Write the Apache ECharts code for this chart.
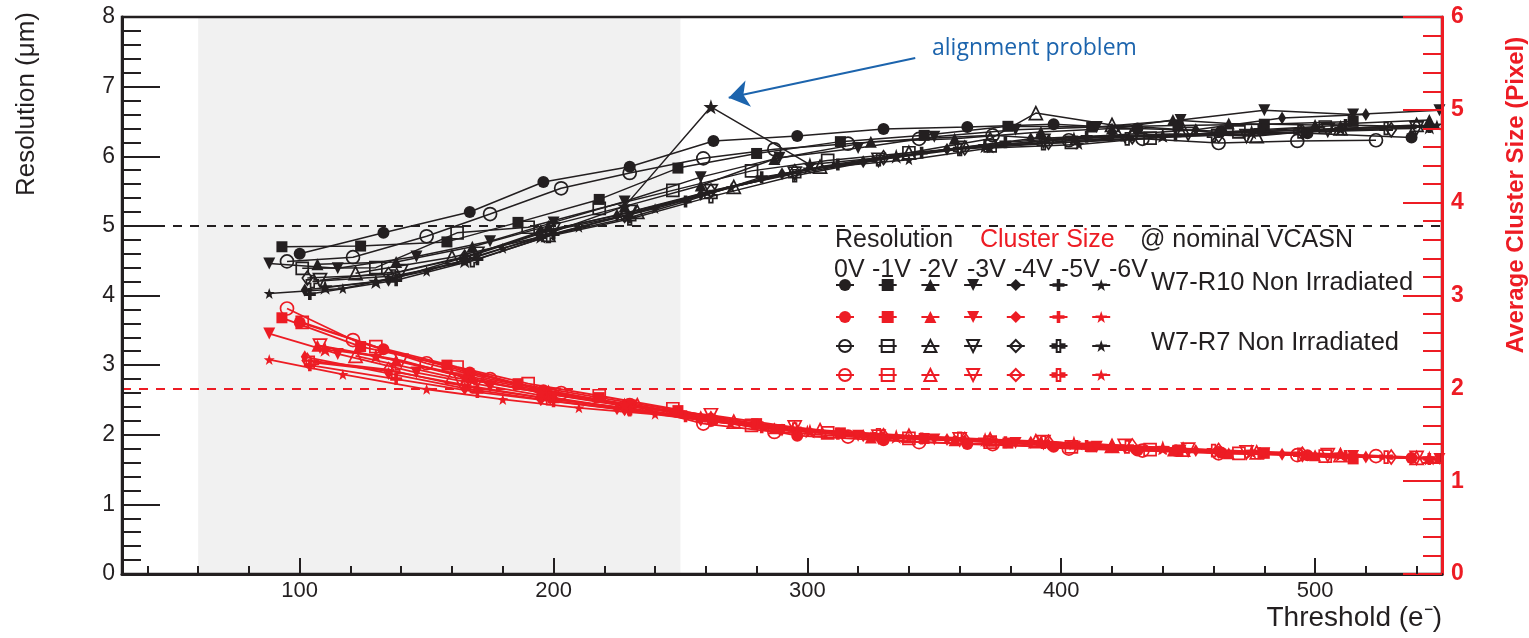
<!DOCTYPE html>
<html><head><meta charset="utf-8">
<script src="https://cdn.jsdelivr.net/npm/echarts@6/dist/echarts.min.js"></script>
<style>html,body{margin:0;padding:0;background:#fff;}#c{width:1529px;height:638px;}</style>
</head><body><div id="c"></div>
<script>
// ---------- tick labels / axis ----------
const xMajorTicks = [100, 200, 300, 400, 500];
const xMinorTicks = [40, 60, 80, 120, 140, 160, 180, 220, 240, 260, 280, 320, 340, 360, 380, 420, 440, 460, 480, 520, 540];
const voltLabels = ['0V', '-1V', '-2V', '-3V', '-4V', '-5V', '-6V'];

// ---------- thresholds (e-) ----------
const thrR10_0V = [100,133,167,196,230,263,296,330,363,397,430,463,497,538];
const thrR10_1V = [93,124,158,186,218,249,280,313,346,379,412,446,480,515];
const thrR10_2V = [107,138,168,198,228,258,287,325,358,392,420,444,466,500,545];
const thrR10_3V = [88,115,146,175,200,228,258,289,320,350,382,414,447,480,515,549];
const thrR10_4V = [102,135,165,195,225,258,290,322,355,388,420,453,487,520];
const thrR10_5V = [104,138,170,200,230,252,282,312,345,378,410,445,478,512,545];
const thrR10_6V = [88,117,150,180,210,240,270,300,340,372,407,440,475,510,548];
const thrR7_0V = [95,121,150,175,203,230,259,287,316,344,373,403,432,462,493,524];
const thrR7_1V = [101,130,162,190,218,247,278,308,340,372,404,435,470,504];
const thrR7_2V = [122,160,198,233,271,305,340,372,390,420,448,477,510,540];
const thrR7_3V = [108,140,170,200,230,262,295,328,360,393,425,450,473,505,540];
const thrR7_4V = [103,135,165,195,228,262,295,330,362,395,428,462,495,530];
const thrR7_5V = [105,137,168,198,230,262,295,328,360,393,426,460,494,528];
const thrR7_6V = [110,130,165,195,228,262,301,335,370,405,440,475,510,545];

// ---------- resolution (um) ----------
const resR10_0V = [4.60,4.90,5.20,5.63,5.85,6.22,6.29,6.39,6.42,6.46,6.40,6.36,6.33,6.27];
const resR10_1V = [4.70,4.71,4.77,5.05,5.38,5.83,6.04,6.21,6.30,6.43,6.42,6.44,6.46,6.50];
const resR10_2V = [4.45,4.48,4.70,5.00,5.28,5.58,5.96,6.21,6.25,6.35,6.40,6.52,6.47,6.45,6.52];
const resR10_3V = [4.46,4.39,4.56,4.78,5.05,5.35,5.70,5.98,6.12,6.28,6.38,6.42,6.52,6.66,6.60,6.66];
const resR10_4V = [4.08,4.22,4.55,4.92,5.15,5.45,5.75,5.92,6.10,6.25,6.30,6.38,6.55,6.60];
const resR10_5V = [4.02,4.22,4.52,4.88,5.12,5.35,5.70,5.88,6.05,6.20,6.28,6.30,6.38,6.45,6.42];
const resR10_6V = [4.03,4.10,4.35,4.68,4.98,5.25,5.55,5.82,5.95,6.12,6.17,6.28,6.35,6.40,6.45];
const resR7_0V = [4.49,4.55,4.85,5.17,5.54,5.76,5.97,6.10,6.18,6.25,6.30,6.23,6.25,6.19,6.22,6.23];
const resR7_1V = [4.39,4.40,4.90,4.98,5.25,5.51,5.79,5.94,6.05,6.15,6.20,6.26,6.35,6.42];
const resR7_2V = [4.32,4.55,4.87,5.20,5.56,5.85,6.05,6.25,6.62,6.45,6.38,6.29,6.40,6.45];
const resR7_3V = [4.22,4.35,4.60,4.95,5.20,5.50,5.75,5.95,6.12,6.22,6.30,6.32,6.29,6.38,6.40];
const resR7_4V = [4.25,4.30,4.55,4.90,5.15,5.50,5.78,5.98,6.12,6.20,6.28,6.30,6.35,6.38];
const resR7_5V = [4.20,4.28,4.50,4.85,5.10,5.42,5.72,5.95,6.10,6.18,6.25,6.30,6.35,6.40];
const resR7_6V = [4.12,4.20,4.50,4.85,5.28,6.71,5.88,6.00,6.15,6.25,6.30,6.35,6.40,6.42];

// ---------- average cluster size (pixel) ----------
const csR10_0V = [2.71,2.42,2.17,1.98,1.82,1.66,1.49,1.44,1.40,1.37,1.33,1.31,1.28,1.25];
const csR10_1V = [2.76,2.45,2.25,2.05,1.90,1.76,1.62,1.52,1.46,1.41,1.37,1.33,1.30,1.24];
const csR10_2V = [2.46,2.30,2.12,1.96,1.83,1.70,1.57,1.47,1.44,1.43,1.37,1.33,1.30,1.28,1.25];
const csR10_3V = [2.59,2.37,2.17,2.02,1.90,1.78,1.66,1.55,1.49,1.45,1.41,1.37,1.33,1.30,1.27,1.24];
const csR10_4V = [2.34,2.16,2.00,1.88,1.78,1.66,1.55,1.49,1.45,1.42,1.37,1.33,1.29,1.26];
const csR10_5V = [2.25,2.10,1.96,1.86,1.76,1.70,1.58,1.51,1.46,1.42,1.38,1.33,1.30,1.27,1.24];
const csR10_6V = [2.31,2.15,1.99,1.88,1.79,1.72,1.62,1.55,1.47,1.43,1.39,1.34,1.31,1.28,1.24];
const csR7_0V = [2.86,2.52,2.27,2.10,1.95,1.82,1.62,1.53,1.48,1.42,1.40,1.35,1.33,1.30,1.28,1.27];
const csR7_1V = [2.71,2.45,2.23,2.05,1.92,1.78,1.60,1.52,1.46,1.42,1.37,1.34,1.30,1.27];
const csR7_2V = [2.35,2.12,1.95,1.82,1.64,1.55,1.49,1.45,1.43,1.38,1.34,1.31,1.28,1.25];
const csR7_3V = [2.46,2.30,2.08,1.93,1.80,1.71,1.58,1.48,1.45,1.42,1.38,1.34,1.31,1.28,1.25];
const csR7_4V = [2.30,2.20,2.02,1.90,1.79,1.67,1.56,1.49,1.45,1.42,1.38,1.33,1.29,1.26];
const csR7_5V = [2.28,2.18,2.02,1.89,1.78,1.66,1.56,1.50,1.46,1.42,1.37,1.33,1.29,1.26];
const csR7_6V = [2.42,2.35,2.12,1.95,1.82,1.68,1.54,1.48,1.45,1.41,1.36,1.32,1.29,1.25];

// ---------- styling ----------
const BLACK = '#231f20', RED = '#ed1c24', BLUE = '#1c64ad';
const FONT = '"Liberation Sans", Arial, Helvetica, sans-serif';
const P_TRIDOWN = 'path://M0,0L100,0L50,87Z';
const P_CROSS = 'path://M35,0H65V35H100V65H65V100H35V65H0V35H35Z';
const P_STAR = 'path://M50,0L61.8,33.8L97.6,34.5L69,56.2L79.4,90.5L50,70L20.6,90.5L31,56.2L2.4,34.5L38.2,33.8Z';
const symR10 = [['circle',12,false],['rect',11,false],['triangle',12,false],[P_TRIDOWN,12,false],['diamond',[8,13],false],[P_CROSS,12,false],[P_STAR,11,false]];
const symR7 = [['circle',13,true],['rect',12,true],['triangle',13,true],[P_TRIDOWN,13,true],['diamond',[10,14],true],[P_CROSS,12,true],[P_STAR,15,false]];

const thrR10 = [thrR10_0V,thrR10_1V,thrR10_2V,thrR10_3V,thrR10_4V,thrR10_5V,thrR10_6V];
const thrR7 = [thrR7_0V,thrR7_1V,thrR7_2V,thrR7_3V,thrR7_4V,thrR7_5V,thrR7_6V];
const resR10 = [resR10_0V,resR10_1V,resR10_2V,resR10_3V,resR10_4V,resR10_5V,resR10_6V];
const resR7 = [resR7_0V,resR7_1V,resR7_2V,resR7_3V,resR7_4V,resR7_5V,resR7_6V];
const csR10 = [csR10_0V,csR10_1V,csR10_2V,csR10_3V,csR10_4V,csR10_5V,csR10_6V];
const csR7 = [csR7_0V,csR7_1V,csR7_2V,csR7_3V,csR7_4V,csR7_5V,csR7_6V];

function mk(name, xs, ys, axis, sd, color) {
  const open = sd[2];
  return {
    name: name, type: 'line', xAxisIndex: 0, yAxisIndex: axis,
    data: xs.map((x, i) => [x, ys[i]]),
    symbol: sd[0], symbolSize: sd[1], showSymbol: true, silent: true, z: 3,
    lineStyle: { color: color, width: axis === 0 ? 1.5 : 1.8 },
    itemStyle: open ? { color: 'rgba(255,255,255,0)', borderColor: color, borderWidth: 1.7 }
                    : { color: color, borderWidth: 0 },
    emphasis: { disabled: true }
  };
}

const series = [];
const rows = [[], [], [], []];
for (let i = 0; i < 7; i++) {
  const n1 = 'Res R10 ' + voltLabels[i], n2 = 'CS R10 ' + voltLabels[i];
  const n3 = 'Res R7 ' + voltLabels[i], n4 = 'CS R7 ' + voltLabels[i];
  series.push(mk(n1, thrR10[i], resR10[i], 0, symR10[i], BLACK));
  series.push(mk(n2, thrR10[i], csR10[i], 1, symR10[i], RED));
  series.push(mk(n3, thrR7[i], resR7[i], 0, symR7[i], BLACK));
  series.push(mk(n4, thrR7[i], csR7[i], 1, symR7[i], RED));
  rows[0].push(n1); rows[1].push(n2); rows[2].push(n3); rows[3].push(n4);
}

// helper series: shaded band, dashed reference lines, annotation arrow
series.push({
  name: 'band', type: 'line', data: [], xAxisIndex: 0, yAxisIndex: 0, silent: true,
  markArea: { silent: true, itemStyle: { color: '#f1f1f1' }, data: [[{ xAxis: 60 }, { xAxis: 250 }]] },
  markLine: { silent: true, symbol: ['none', 'none'], label: { show: false },
    lineStyle: { color: BLACK, type: [9, 8], width: 2 }, data: [{ yAxis: 5 }] }
});
series.push({
  name: 'refCS', type: 'line', data: [], xAxisIndex: 0, yAxisIndex: 1, silent: true,
  markLine: { silent: true, symbol: ['none', 'none'], label: { show: false },
    lineStyle: { color: RED, type: [9, 8], width: 2 }, data: [{ yAxis: 2 }] }
});
series.push({
  name: 'arrow', type: 'line', data: [], xAxisIndex: 0, yAxisIndex: 0, silent: true, z: 6,
  markLine: { silent: true, symbol: ['none', 'arrow'], symbolSize: 20, label: { show: false },
    itemStyle: { color: BLUE },
    lineStyle: { color: BLUE, type: 'solid', width: 2 },
    data: [[{ coord: [342.5, 7.41] }, { coord: [269, 6.84] }]] }
});

const legends = rows.map((names, r) => ({
  data: names, orient: 'horizontal', left: 835, top: [285, 317, 346, 375][r] - 7.5,
  itemWidth: 18, itemHeight: 15, itemGap: 22.7, padding: 0, selectedMode: false,
  formatter: () => '', textStyle: { fontSize: 10 }
}));

const txt = (t, x, y, color, size) => ({
  type: 'text', x: x, y: y, silent: true,
  style: { text: t, fill: color, font: size + 'px ' + FONT, align: 'left', verticalAlign: 'middle' }
});

const graphic = [
  { type: 'text', x: 27, y: 104, rotation: Math.PI / 2, silent: true,
    style: { text: 'Resolution (μm)', fill: BLACK, font: '26px ' + FONT, align: 'center', verticalAlign: 'middle' } },
  { type: 'text', x: 1516, y: 195, rotation: Math.PI / 2, silent: true,
    style: { text: 'Average Cluster Size (Pixel)', fill: RED, font: 'bold 24px ' + FONT, align: 'center', verticalAlign: 'middle' } },
  { type: 'text', x: 932, y: 48, silent: true,
    style: { text: 'alignment problem', fill: BLUE, font: '23px "Open Sans", sans-serif', align: 'left', verticalAlign: 'middle' } },
  txt('Resolution', 835, 240, BLACK, 25),
  txt('Cluster Size', 980, 240, RED, 25),
  txt('@ nominal VCASN', 1140, 240, BLACK, 25),
  txt('W7-R10 Non Irradiated', 1151, 283, BLACK, 25.5),
  txt('W7-R7 Non Irradiated', 1151, 343, BLACK, 25.5)
];
const voltX = [834, 872, 919, 967, 1014, 1061, 1109];
voltLabels.forEach((v, i) => graphic.push(txt(v, voltX[i], 270, BLACK, 25)));

const option = {
  animation: false,
  backgroundColor: '#fff',
  grid: { left: 122, right: 87, top: 17, bottom: 64, show: true, borderColor: BLACK, borderWidth: 2.5, backgroundColor: 'rgba(0,0,0,0)', z: 10 },
  xAxis: [
    { type: 'value', min: 30, max: 550, position: 'bottom', z: 10,
      axisLine: { show: true, lineStyle: { color: BLACK, width: 3 } },
      axisTick: { show: true, inside: true, length: 16, customValues: xMajorTicks, lineStyle: { color: BLACK, width: 2 } },
      axisLabel: { show: true, customValues: xMajorTicks, color: BLACK, fontSize: 22, fontFamily: FONT, margin: 6 },
      splitLine: { show: false },
      name: 'Threshold (e⁻)', nameLocation: 'end', nameGap: 0,
      nameTextStyle: { color: BLACK, fontSize: 28, fontFamily: FONT, align: 'right', verticalAlign: 'top', padding: [30, 0, 0, 0] } },
    { type: 'value', min: 30, max: 550, position: 'bottom', z: 10,
      axisLine: { show: false },
      axisTick: { show: true, inside: true, length: 8, customValues: xMinorTicks, lineStyle: { color: BLACK, width: 2 } },
      axisLabel: { show: false }, splitLine: { show: false } }
  ],
  yAxis: [
    { type: 'value', min: 0, max: 8, interval: 1, position: 'left', z: 10,
      axisLine: { show: true, lineStyle: { color: BLACK, width: 3 } },
      axisTick: { show: true, inside: true, length: 38, lineStyle: { color: BLACK, width: 2 } },
      minorTick: { show: true, splitNumber: 5, length: 19, lineStyle: { color: BLACK, width: 2 } },
      axisLabel: { show: true, color: BLACK, fontSize: 23, fontFamily: FONT, margin: 7 },
      splitLine: { show: false }, minorSplitLine: { show: false } },
    { type: 'value', min: 0, max: 6, interval: 1, position: 'right', z: 10,
      axisLine: { show: true, lineStyle: { color: RED, width: 3 } },
      axisTick: { show: true, inside: true, length: 39, lineStyle: { color: RED, width: 2 } },
      minorTick: { show: true, splitNumber: 5, length: 19, lineStyle: { color: RED, width: 2 } },
      axisLabel: { show: true, color: RED, fontSize: 23, fontWeight: 'bold', fontFamily: FONT, margin: 9 },
      splitLine: { show: false }, minorSplitLine: { show: false } }
  ],
  legend: legends,
  graphic: graphic,
  series: series
};

const chart = echarts.init(document.getElementById('c'), null, { renderer: 'canvas' });
chart.setOption(option);
</script></body></html>
